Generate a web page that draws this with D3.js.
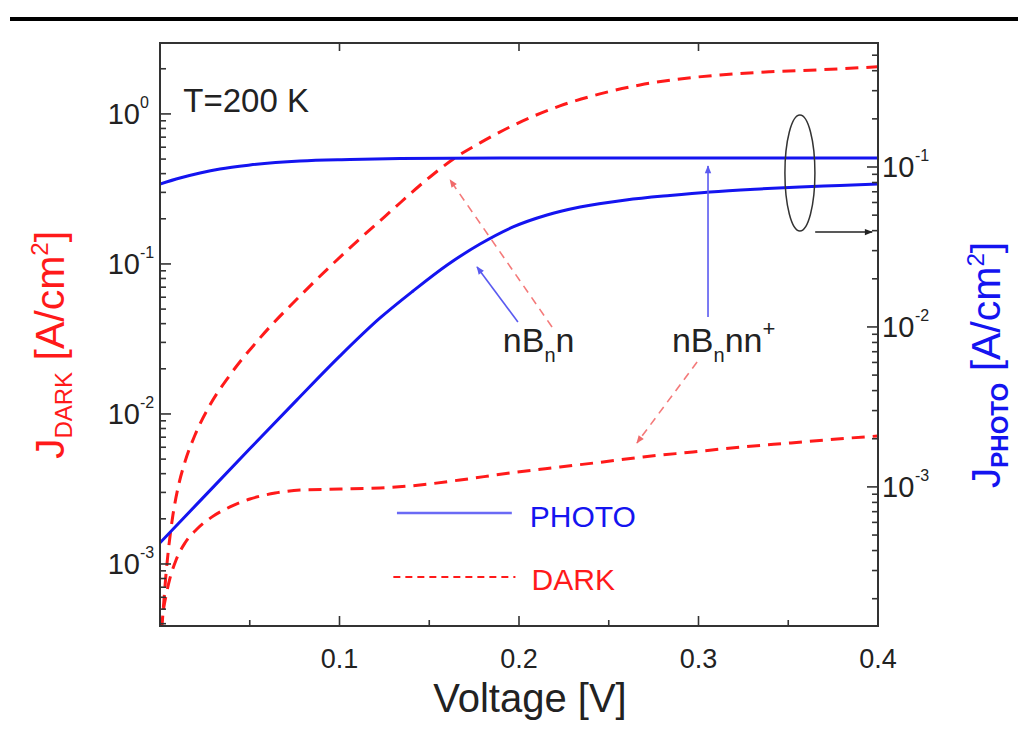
<!DOCTYPE html>
<html>
<head>
<meta charset="utf-8">
<script src="https://cdn.jsdelivr.net/npm/d3@7"></script>
<style>
  html, body { margin: 0; padding: 0; background: #fff; }
  svg text { font-family: "Liberation Sans", Arial, sans-serif; }
</style>
</head>
<body>
<svg id="chart" width="1028" height="735"></svg>
<script>
// nBn device, photo current (right axis)
var photoNBnV = [0, 0.0111, 0.0223, 0.0334, 0.0501, 0.078, 0.1058, 0.1337, 0.1894, 0.3, 0.4];
var photoNBn  = [0.0783, 0.0853, 0.0917, 0.0972, 0.1029, 0.109, 0.1114, 0.113, 0.1139, 0.1139, 0.1139];

// nBnn+ device, photo current (right axis)
var photoNBnnV = [0, 0.0223, 0.05, 0.0763, 0.1003, 0.1226, 0.141, 0.160, 0.1783, 0.1967, 0.2156, 0.234, 0.2596, 0.2841, 0.3064, 0.3343, 0.3565, 0.3788, 0.4];
var photoNBnn  = [4.47e-4, 8.18e-4, 1.73e-3, 3.50e-3, 6.59e-3, 0.01138, 0.01679, 0.0244, 0.0330, 0.0422, 0.0501, 0.0562, 0.0622, 0.0664, 0.0698, 0.0729, 0.0750, 0.0766, 0.0783];

// nBn device, dark current (left axis)
var darkNBnV = [0.001, 0.0022, 0.0033, 0.0050, 0.0072, 0.0100, 0.0139, 0.0195, 0.0279, 0.0390, 0.0557, 0.0797, 0.1058, 0.1281, 0.1504, 0.1643, 0.1783, 0.1950, 0.2228, 0.2451, 0.2674, 0.2897, 0.3120, 0.3398, 0.3677, 0.4];
var darkNBn  = [3.7e-4, 5.75e-4, 8.45e-4, 1.34e-3, 2.12e-3, 3.21e-3, 4.79e-3, 7.24e-3, 0.0115, 0.0182, 0.0321, 0.0641, 0.128, 0.222, 0.380, 0.509, 0.641, 0.819, 1.131, 1.36, 1.56, 1.71, 1.82, 1.91, 1.97, 2.06];

// nBnn+ device, dark current (left axis)
var darkNBnnV = [0.0003, 0.0017, 0.0033, 0.0056, 0.0089, 0.0139, 0.0206, 0.0290, 0.0390, 0.0501, 0.0641, 0.0780, 0.1003, 0.1226, 0.1448, 0.1671, 0.195, 0.2228, 0.2468, 0.2691, 0.2969, 0.3248, 0.3515, 0.3772, 0.4];
var darkNBnn  = [3.6e-4, 4.79e-4, 6.12e-4, 8.07e-4, 1.06e-3, 1.38e-3, 1.71e-3, 2.06e-3, 2.40e-3, 2.71e-3, 2.97e-3, 3.11e-3, 3.16e-3, 3.21e-3, 3.36e-3, 3.63e-3, 4.04e-3, 4.43e-3, 4.79e-3, 5.17e-3, 5.58e-3, 6.03e-3, 6.41e-3, 6.81e-3, 7.13e-3];

var xTicks = [0.1, 0.2, 0.3, 0.4];
var xMinorTicks = [0.05, 0.15, 0.25, 0.35];
var leftExps = [0, -1, -2, -3];
var rightExps = [-1, -2, -3];

var RED = '#ff1a1a', BLUE = '#1414f0';

var svg = d3.select('#chart');
var m = { left: 160, right: 878, top: 43, bottom: 626 };

var x = d3.scaleLinear().domain([0, 0.4]).range([m.left, m.right]);
var yL = d3.scaleLog().domain([3.86e-4, 2.97]).range([m.bottom, m.top]);
var yR = d3.scaleLog().domain([1.35e-4, 0.596]).range([m.bottom, m.top]);

// top rule
svg.append('rect').attr('x', 10).attr('y', 17).attr('width', 1008).attr('height', 4).attr('fill', '#000');

svg.append('clipPath').attr('id', 'plotclip').append('rect')
    .attr('x', m.left).attr('y', m.top)
    .attr('width', m.right - m.left).attr('height', m.bottom - m.top);

var defs = svg.append('defs');
function marker(id, color) {
    defs.append('marker').attr('id', id)
        .attr('viewBox', '0 -5 10 10').attr('refX', 9).attr('refY', 0)
        .attr('markerWidth', 9).attr('markerHeight', 8)
        .attr('markerUnits', 'userSpaceOnUse').attr('orient', 'auto')
        .append('path').attr('d', 'M0,-4L10,0L0,4Z').attr('fill', color);
}
marker('arBlue', '#5a5af0');
marker('arRed', '#f06a6a');
marker('arBlack', '#222');

// curves
var plot = svg.append('g').attr('clip-path', 'url(#plotclip)');
function curve(vs, js, ys, color, dashed) {
    var pts = vs.map(function (v, i) { return [v, js[i]]; });
    var line = d3.line()
        .x(function (d) { return x(d[0]); })
        .y(function (d) { return ys(d[1]); })
        .curve(d3.curveMonotoneX);
    plot.append('path').datum(pts)
        .attr('d', line).attr('fill', 'none')
        .attr('stroke', color).attr('stroke-width', 3)
        .attr('stroke-dasharray', dashed ? '13,8' : null);
}
curve(darkNBnV, darkNBn, yL, RED, true);
curve(darkNBnnV, darkNBnn, yL, RED, true);
curve(photoNBnV, photoNBn, yR, BLUE, false);
curve(photoNBnnV, photoNBnn, yR, BLUE, false);

// frame
svg.append('rect').attr('x', m.left).attr('y', m.top)
    .attr('width', m.right - m.left).attr('height', m.bottom - m.top)
    .attr('fill', 'none').attr('stroke', '#333').attr('stroke-width', 2);

var axes = svg.append('g').attr('stroke', '#333').attr('stroke-width', 1.6);

// x ticks
xTicks.forEach(function (t) {
    axes.append('line').attr('x1', x(t)).attr('x2', x(t)).attr('y1', m.bottom).attr('y2', m.bottom - 10);
    axes.append('line').attr('x1', x(t)).attr('x2', x(t)).attr('y1', m.top).attr('y2', m.top + 8);
    svg.append('text').attr('x', x(t)).attr('y', 668).attr('text-anchor', 'middle')
        .attr('font-size', 27).attr('fill', '#222').text(t.toFixed(1));
});
xMinorTicks.forEach(function (t) {
    axes.append('line').attr('x1', x(t)).attr('x2', x(t)).attr('y1', m.bottom).attr('y2', m.bottom - 6);
});

// log ticks
function logTicks(scale, side) {
    var d = scale.domain();
    var lo = Math.floor(Math.log10(d[0])), hi = Math.ceil(Math.log10(d[1]));
    for (var e = lo; e <= hi; e++) {
        for (var k = 1; k <= 9; k++) {
            var v = k * Math.pow(10, e);
            if (v < d[0] || v > d[1]) continue;
            var len = k === 1 ? 11 : 6;
            var x0 = side === 'left' ? m.left : m.right;
            var x1 = side === 'left' ? x0 + len : x0 - len;
            axes.append('line').attr('x1', x0).attr('x2', x1)
                .attr('y1', scale(v)).attr('y2', scale(v));
        }
    }
}
logTicks(yL, 'left');
logTicks(yR, 'right');

leftExps.forEach(function (e) {
    var yy = yL(Math.pow(10, e));
    svg.append('text').attr('x', 140).attr('y', yy + 10).attr('text-anchor', 'end')
        .attr('font-size', 29).attr('fill', '#222').text('10');
    svg.append('text').attr('x', 140).attr('y', yy - 6)
        .attr('font-size', 16).attr('fill', '#222').text(e === 0 ? '0' : '-' + (-e));
});
rightExps.forEach(function (e) {
    var yy = yR(Math.pow(10, e));
    svg.append('text').attr('x', 882).attr('y', yy + 10)
        .attr('font-size', 29).attr('fill', '#222').text('10');
    svg.append('text').attr('x', 915).attr('y', yy - 6)
        .attr('font-size', 16).attr('fill', '#222').text('-' + (-e));
});

// axis titles
svg.append('text').attr('x', 530).attr('y', 712).attr('text-anchor', 'middle')
    .attr('font-size', 40).attr('fill', '#222').text('Voltage [V]');

function yTitle(cx, cy, sub, color, subBold) {
    var t = svg.append('text').attr('transform', 'translate(' + cx + ',' + cy + ') rotate(-90)')
        .attr('text-anchor', 'middle').attr('fill', color).attr('font-size', 41);
    t.append('tspan').text('J');
    t.append('tspan').attr('font-size', 24).attr('dy', 8)
        .attr('font-weight', subBold ? 'bold' : null).text(sub);
    t.append('tspan').attr('dy', -8).text(' [A/cm');
    t.append('tspan').attr('font-size', 24).attr('dy', -16).text('2');
    t.append('tspan').attr('dy', 16).text(']');
}
yTitle(64, 345, 'DARK', RED, false);
yTitle(1000, 365, 'PHOTO', BLUE, true);

// annotations
svg.append('text').attr('x', x(0.013)).attr('y', yL(1.03))
    .attr('font-size', 33).attr('fill', '#222').text('T=200 K');

svg.append('ellipse').attr('cx', x(0.3565)).attr('cy', yL(0.404))
    .attr('rx', 15).attr('ry', 58).attr('fill', 'none').attr('stroke', '#333').attr('stroke-width', 1.5);
svg.append('line').attr('x1', x(0.365)).attr('x2', x(0.3967))
    .attr('y1', yL(0.163)).attr('y2', yL(0.163))
    .attr('stroke', '#222').attr('stroke-width', 1.5).attr('marker-end', 'url(#arBlack)');

function arrow(v1, j1, v2, j2, color, mk, dashed) {
    svg.append('line').attr('x1', x(v1)).attr('y1', yL(j1)).attr('x2', x(v2)).attr('y2', yL(j2))
        .attr('stroke', color).attr('stroke-width', 1.6)
        .attr('stroke-dasharray', dashed ? '8,6' : null)
        .attr('marker-end', 'url(#' + mk + ')');
}
arrow(0.1994, 0.0410, 0.1766, 0.0955, '#5a5af0', 'arBlue', false);
arrow(0.2184, 0.038, 0.1616, 0.363, '#f47a7a', 'arRed', true);
arrow(0.3053, 0.0443, 0.3053, 0.450, '#5a5af0', 'arBlue', false);
arrow(0.2992, 0.0222, 0.2657, 0.00641, '#f47a7a', 'arRed', true);

function devLabel(v, j, plus) {
    var t = svg.append('text').attr('x', x(v)).attr('y', yL(j))
        .attr('font-size', 34).attr('fill', '#222');
    t.append('tspan').text('nB');
    t.append('tspan').attr('font-size', 20).attr('dy', 10).text('n');
    t.append('tspan').attr('dy', -10).text(plus ? 'nn' : 'n');
    if (plus) t.append('tspan').attr('font-size', 22).attr('dy', -16).text('+');
}
devLabel(0.191, 0.0259, false);
devLabel(0.2852, 0.0259, true);

// legend
svg.append('line').attr('x1', x(0.132)).attr('x2', x(0.196))
    .attr('y1', yL(0.00219)).attr('y2', yL(0.00219))
    .attr('stroke', '#6a6af5').attr('stroke-width', 2.5);
svg.append('text').attr('x', x(0.206)).attr('y', yL(0.00177))
    .attr('font-size', 30).attr('fill', BLUE).text('PHOTO');
svg.append('line').attr('x1', x(0.130)).attr('x2', x(0.198))
    .attr('y1', yL(8.19e-4)).attr('y2', yL(8.19e-4))
    .attr('stroke', RED).attr('stroke-width', 2).attr('stroke-dasharray', '7,5');
svg.append('text').attr('x', x(0.207)).attr('y', yL(6.71e-4))
    .attr('font-size', 30).attr('fill', RED).text('DARK');
</script>
</body>
</html>
